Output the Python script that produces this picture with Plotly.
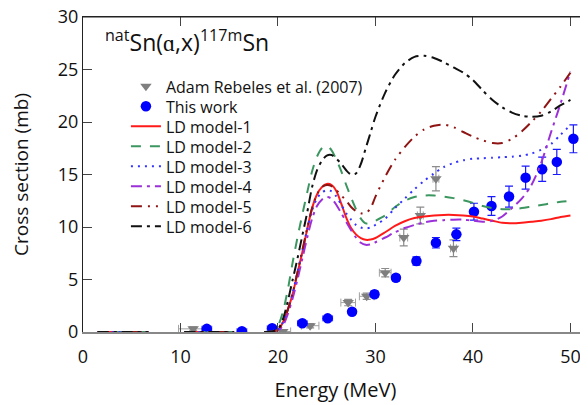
import plotly.graph_objects as go

# ---- data ----
energy_grid = [1.5, 6.7, None, 10.4, 15.5, None, 18.6, 19.5, 20, 20.5, 21, 21.5, 22, 22.5, 23, 23.5,
               24, 24.5, 25, 25.5, 26, 26.5, 27, 27.5, 28, 28.5, 29, 29.5, 30, 31, 32, 33, 34,
               35, 36, 37, 38, 39, 40, 41, 42, 43, 44, 45, 46, 47, 48, 49, 50]

ld1 = [0, 0, None, 0, 0, None, 0, 0.05, 0.2, 0.9, 2.1, 3.6, 5.6, 7.6, 9.8, 11.8,
       13.1, 13.8, 14.1, 14.0, 13.4, 12.2, 10.9, 9.9, 9.3, 8.95, 8.78, 8.8, 8.95, 9.5, 10.1, 10.55, 10.85,
       11.0, 11.1, 11.15, 11.15, 11.1, 11.0, 10.8, 10.6, 10.4, 10.35, 10.4, 10.5, 10.6, 10.75, 10.95, 11.1]
ld2 = [0, 0, None, 0, 0, None, 0, 0.1, 0.6, 1.9, 4.0, 6.6, 9.0, 11.2, 13.3, 15.3,
       16.7, 17.5, 17.75, 17.3, 16.4, 15.3, 14.0, 12.8, 11.7, 10.8, 10.35, 10.4, 10.6, 11.1, 11.9, 12.5, 12.85,
       13.0, 13.0, 12.9, 12.75, 12.55, 12.3, 12.0, 11.8, 11.7, 11.7, 11.8, 11.95, 12.1, 12.25, 12.4, 12.5]
ld3 = [0, 0, None, 0, 0, None, 0, 0.05, 0.2, 0.9, 2.1, 3.7, 5.7, 7.7, 9.8, 11.6,
       12.7, 13.3, 13.5, 13.4, 12.9, 12.1, 11.3, 10.7, 10.2, 9.95, 9.87, 9.95, 10.2, 10.8, 11.8, 12.7, 13.6,
       14.4, 15.1, 15.7, 16.1, 16.35, 16.5, 16.55, 16.6, 16.65, 16.7, 16.8, 17.0, 17.35, 17.9, 18.8, 19.7]
ld4 = [0, 0, None, 0, 0, None, 0, 0.02, 0.1, 0.6, 1.7, 3.2, 5.0, 7.0, 9.0, 10.8,
       12.0, 12.6, 12.85, 12.7, 12.1, 11.3, 10.5, 9.7, 9.0, 8.5, 8.3, 8.35, 8.55, 9.0, 9.5, 9.9, 10.2,
       10.45, 10.6, 10.65, 10.7, 10.7, 10.6, 10.5, 10.6, 11.0, 11.8, 12.7, 14.0, 16.1, 19.0, 21.8, 24.8]
ld5 = [0, 0, None, 0, 0, None, 0, 0.05, 0.2, 0.9, 2.1, 3.7, 5.7, 7.8, 9.9, 11.8,
       13.1, 13.8, 14.0, 13.9, 13.5, 13.0, 12.5, 11.9, 11.5, 11.3, 11.3, 11.8, 12.9, 14.8, 16.4, 17.6, 18.6,
       19.3, 19.65, 19.75, 19.5, 19.05, 18.6, 18.25, 18.0, 18.0, 18.4, 19.1, 20.0, 21.0, 22.2, 23.4, 24.7]
ld6 = [0, 0, None, 0, 0, None, 0, 0.08, 0.3, 1.2, 2.9, 4.95, 7.0, 9.2, 11.4, 13.8,
       15.4, 16.3, 16.8, 16.85, 16.5, 16.0, 15.4, 15.0, 15.1, 16.0, 17.5, 19.0, 20.5, 22.8, 24.5, 25.6, 26.2,
       26.3, 26.1, 25.7, 25.2, 24.7, 24.0, 23.0, 22.1, 21.4, 20.9, 20.6, 20.5, 20.6, 21.0, 21.6, 22.1]

adam_e = [11.3, 20.5, 23.3, 27.2, 29.1, 31.0, 32.9, 34.6, 36.2, 38.0]
adam_s = [0.3, 0.05, 0.6, 2.8, 3.4, 5.65, 9.0, 11.1, 14.6, 7.97]
adam_ds = [0.2, 0.1, 0.2, 0.3, 0.3, 0.4, 0.8, 0.8, 1.15, 0.8]
adam_de = [1.5, 0.8, 0.9, 0.75, 0.75, 0.6, 0.4, 0.3, 0.3, 0.3]

this_e = [12.7, 16.3, 19.4, 22.5, 25.1, 27.6, 29.9, 32.1, 34.2, 36.2, 38.3, 40.1, 41.9, 43.7, 45.4, 47.1, 48.6, 50.3]
this_s = [0.3, 0.08, 0.35, 0.83, 1.3, 1.93, 3.59, 5.17, 6.76, 8.5, 9.3, 11.46, 12.0, 12.9, 14.7, 15.5, 16.2, 18.4]
this_ds = [0.2, 0.2, 0.2, 0.2, 0.2, 0.25, 0.3, 0.3, 0.4, 0.5, 0.6, 0.8, 0.9, 1.0, 1.1, 1.16, 1.2, 1.33]
this_de = [0.5, 0.5, 0.5, 0.5, 0.5, 0.3, 0.2, 0.2, 0.2, 0.2, 0.2, 0.2, 0.2, 0.2, 0.2, 0.2, 0.2, 0.2]

x_ticks = [0, 10, 20, 30, 40, 50]
y_ticks = [0, 5, 10, 15, 20, 25, 30]

FONT = "Open Sans"
# the page body has an 8px margin, so the figure is laid out 8px up/left of the screen
W, H = 588, 405
ML, MR, MT, MB = 75, 8, 9, 81
PLOT_H = H - MT - MB

fig = go.Figure()

legend_names = ["legend", "legend2", "legend3", "legend4", "legend5", "legend6", "legend7", "legend8"]

fig.add_trace(go.Scatter(
    x=adam_e, y=adam_s, mode="markers", name="Adam Rebeles et al. (2007)", legend=legend_names[0],
    marker=dict(symbol="triangle-down", size=10, color="#7f7f7f"),
    error_y=dict(type="data", array=adam_ds, color="#8c8c8c", thickness=1.2, width=4),
    error_x=dict(type="data", array=adam_de, color="#a0a0a0", thickness=1, width=4),
))
fig.add_trace(go.Scatter(
    x=this_e, y=this_s, mode="markers", name="This work", legend=legend_names[1],
    marker=dict(symbol="circle", size=10.5, color="#0000ff"),
    error_y=dict(type="data", array=this_ds, color="#1a1aff", thickness=1.2, width=4),
    error_x=dict(type="data", array=this_de, color="#3a3aff", thickness=1, width=3),
))

models = [
    ("LD model-1", ld1, "#ff1a1a", "solid"),
    ("LD model-2", ld2, "#3c9660", "10px,9px"),
    ("LD model-3", ld3, "#3333ff", "2px,5px"),
    ("LD model-4", ld4, "#9b30d9", "11px,5px,3px,5px"),
    ("LD model-5", ld5, "#8f1414", "11px,6px,2px,6px,2px,6px"),
    ("LD model-6", ld6, "#111111", "11px,5px,3px,5px"),
]
for i, (name, vals, col, dash) in enumerate(models):
    fig.add_trace(go.Scatter(
        x=energy_grid, y=vals, mode="lines", name=name, legend=legend_names[i + 2],
        line=dict(color=col, width=2, dash=dash, shape="spline", smoothing=0.8),
        connectgaps=False,
    ))

# helper (empty) trace for the mirrored top/right tick axes
fig.add_trace(go.Scatter(x=[None], y=[None], xaxis="x2", yaxis="y2", showlegend=False, hoverinfo="skip"))

legend_layout = {}
for i, ln in enumerate(legend_names):
    top_screen = 69.4 + 20 * i - 8  # figure coords
    ypaper = 1 - (top_screen - MT) / PLOT_H
    legend_layout[ln] = dict(x=0.085, y=ypaper, xanchor="left", yanchor="top",
                             font=dict(family=FONT, size=16, color="#111"),
                             bgcolor="rgba(0,0,0,0)", itemwidth=30)

fig.update_layout(
    width=W, height=H,
    margin=dict(l=ML, r=MR, t=MT, b=MB, autoexpand=False),
    paper_bgcolor="white", plot_bgcolor="white",
    font=dict(family=FONT, color="#1a1a1a"),
    showlegend=True,
    xaxis=dict(range=[0, 51.8], tickvals=x_ticks, ticks="inside", ticklen=9, tickcolor="#444",
               showline=True, linecolor="#888888", linewidth=2, showgrid=False, zeroline=False,
               automargin=False, ticklabelstandoff=7,
               tickfont=dict(size=18, family=FONT, color="#111"),
               title=dict(text="Energy (MeV)", font=dict(size=20, family=FONT, color="#111"), standoff=16)),
    yaxis=dict(range=[0, 30], tickvals=y_ticks, ticks="inside", ticklen=9, tickcolor="#444",
               showline=True, linecolor="#222", linewidth=1, showgrid=False, zeroline=False,
               automargin=False, ticklabeloverflow="allow",
               tickfont=dict(size=18, family=FONT, color="#111"),
               title=dict(text="Cross section (mb)", font=dict(size=19, family=FONT, color="#111"), standoff=24)),
    xaxis2=dict(range=[0, 51.8], tickvals=x_ticks, ticks="inside", ticklen=9, tickcolor="#444",
                overlaying="x", side="top", showticklabels=False, showline=True, linecolor="#222",
                linewidth=1, showgrid=False, zeroline=False, automargin=False),
    yaxis2=dict(range=[0, 30], tickvals=y_ticks, ticks="inside", ticklen=7, tickcolor="#444",
                overlaying="y", side="right", showticklabels=False, showline=False,
                showgrid=False, zeroline=False, automargin=False),
    shapes=[dict(type="line", xref="paper", yref="paper", x0=0, x1=1, y0=1, y1=1,
                 line=dict(color="#222", width=1), layer="above")],
    annotations=[dict(text="<sup>nat</sup>Sn(ɑ,x)<sup>117m</sup>Sn", x=0.04, y=0.925,
                      xref="paper", yref="paper", xanchor="left", yanchor="middle", showarrow=False,
                      font=dict(size=23, family=FONT, color="#111"))],
    **legend_layout,
)

fig.write_html("out.html")
